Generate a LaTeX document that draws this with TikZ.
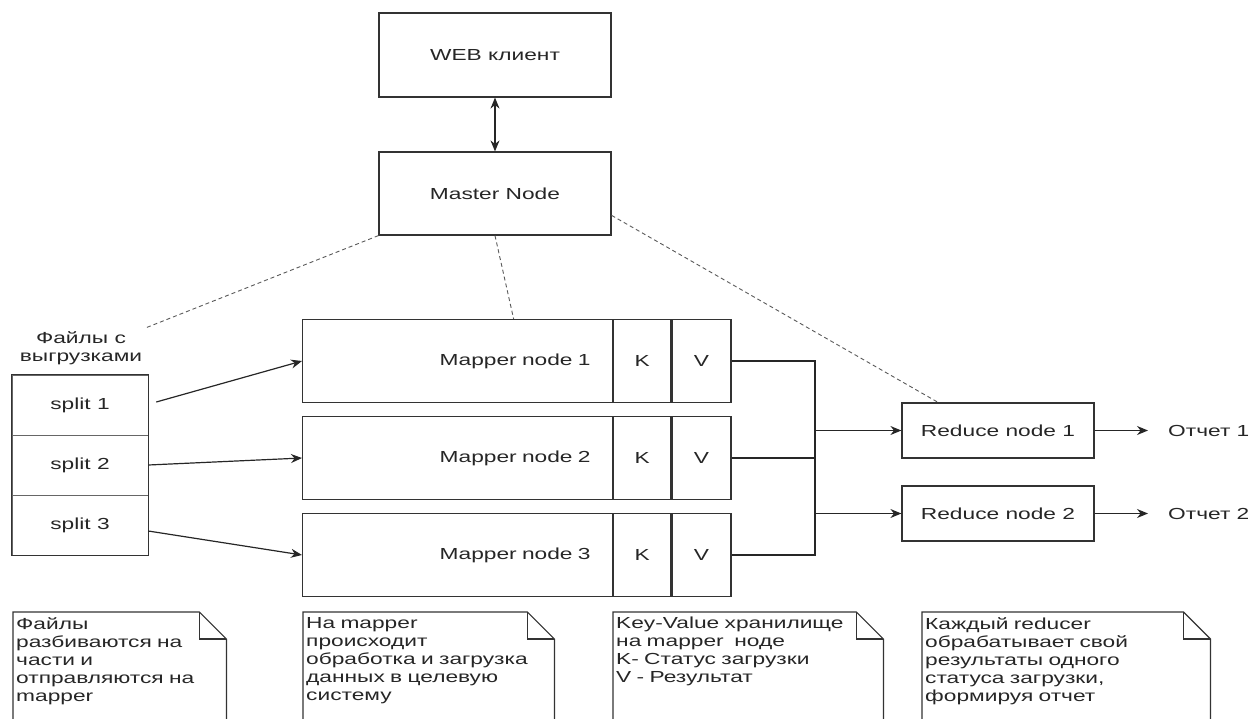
\documentclass[tikz,border=0pt]{standalone}
\usepackage{fontspec}
\setmainfont{Liberation Sans}[FakeStretch=1.42]
\usetikzlibrary{arrows.meta,calc}

% outline of a folded note, open at the bottom
\newcommand{\notepath}[1]{%
  \draw[noteline] (#1.north west |- cut) -- (#1.north west) -- ([xshift=-27pt]#1.north east)
    -- ([yshift=-27pt]#1.north east) -- (#1.north east |- cut);
  \draw[noteline] ([xshift=-27pt]#1.north east) |- ([yshift=-27pt]#1.north east);}

\begin{document}
\begin{tikzpicture}[x=1pt,y=-1pt,>={Stealth[length=11pt,width=9pt]},
    every node/.style={font=\fontsize{16}{18}\selectfont,text=black!85},
    box/.style={draw=black!80,line width=1.2pt,inner sep=0pt},
    cell/.style={box,minimum height=83pt,anchor=west},
    arr/.style={->,line width=1.2pt,draw=black!85},
    dashline/.style={draw=black!65,line width=0.9pt,dash pattern=on 4pt off 3pt},
    noteline/.style={draw=black!80,line width=1.2pt},
    note/.style={anchor=north west,align=left,inner xsep=3pt,inner ysep=5pt}]

    \useasboundingbox (0,0) rectangle (1255,718);
    \clip (0,0) rectangle (1255,718);
    \coordinate (cut) at (0,740);
    \coordinate (bus) at (815,0);

    \node[box,minimum width=232pt,minimum height=84pt] (web) at (495,55) {WEB клиент};
    \node[box,minimum width=232pt,minimum height=83pt] (master) at (495,193.5) {Master Node};
    \draw[arr,<->] (web) -- (master);

    \node[align=center] (files) at (81,348) {Файлы с\\выгрузками};
    \foreach \i/\y in {1/405,2/465,3/525}
        \node[draw=black!60,line width=0.6pt,minimum width=136pt,minimum height=60pt,inner sep=0pt] (s\i) at (80,\y) {split \i};
    \draw[line width=1.2pt,draw=black!80] (s1.north west) rectangle (s3.south east);

    \foreach \i/\y in {1/361,2/458,3/555}{
        \node[cell,minimum width=310pt,text width=266pt,align=right,inner xsep=22pt] (m\i) at (302,\y) {Mapper node \i};
        \node[cell,minimum width=57pt] (k\i) at (m\i.east) {K};
        \node[cell,minimum width=59pt] (v\i) at (k\i.east) {V};
    }

    \draw[arr] ([xshift=8pt,yshift=3pt]s1.east) -- (m1.west);
    \draw[arr] (s2.east) -- (m2.west);
    \draw[arr] ([yshift=-6pt]s3.east) -- (m3.west);

    \draw[line width=1.2pt,draw=black!85] (v1.east) -- (v1.east -| bus) -- (v3.east -| bus) -- (v3.east);
    \draw[line width=1.2pt,draw=black!85] (v2.east) -- (v2.east -| bus);

    \node[box,minimum width=192pt,minimum height=55pt] (r1) at (998,430.5) {Reduce node 1};
    \node[box,minimum width=192pt,minimum height=55pt] (r2) at (998,513.5) {Reduce node 2};
    \draw[arr] (r1.west -| bus) -- (r1.west);
    \draw[arr] (r2.west -| bus) -- (r2.west);

    \node[anchor=west,inner sep=0pt] (o1) at (1168,430.5) {Отчет 1};
    \node[anchor=west,inner sep=0pt] (o2) at (1168,513.5) {Отчет 2};
    \draw[arr,shorten >=20pt] (r1) -- (o1);
    \draw[arr,shorten >=20pt] (r2) -- (o2);

    \draw[dashline] (master.south west) -- (files.north east);
    \draw[dashline] (master.south) -- ($(m1.north west)!0.68!(m1.north east)$);
    \draw[dashline] ($(master.south east)!0.24!(master.north east)$) -- ($(r1.north west)!0.19!(r1.north east)$);

    \node[note,text width=207pt] (n1) at (13,612) {Файлы\\разбиваются на\\части и\\отправляются на\\mapper};
    \node[note,text width=245pt] (n2) at (303,612) {На mapper\\происходит\\обработка и загрузка\\данных в целевую\\систему};
    \node[note,text width=264pt] (n3) at (613,612) {Key-Value хранилище\\на mapper~~ноде\\K- Статус загрузки\\V - Результат};
    \node[note,text width=282pt] (n4) at (922,612) {Каждый reducer\\обрабатывает свой\\результаты одного\\статуса загрузки,\\формируя отчет};
    \notepath{n1}
    \notepath{n2}
    \notepath{n3}
    \notepath{n4}
\end{tikzpicture}
\end{document}
